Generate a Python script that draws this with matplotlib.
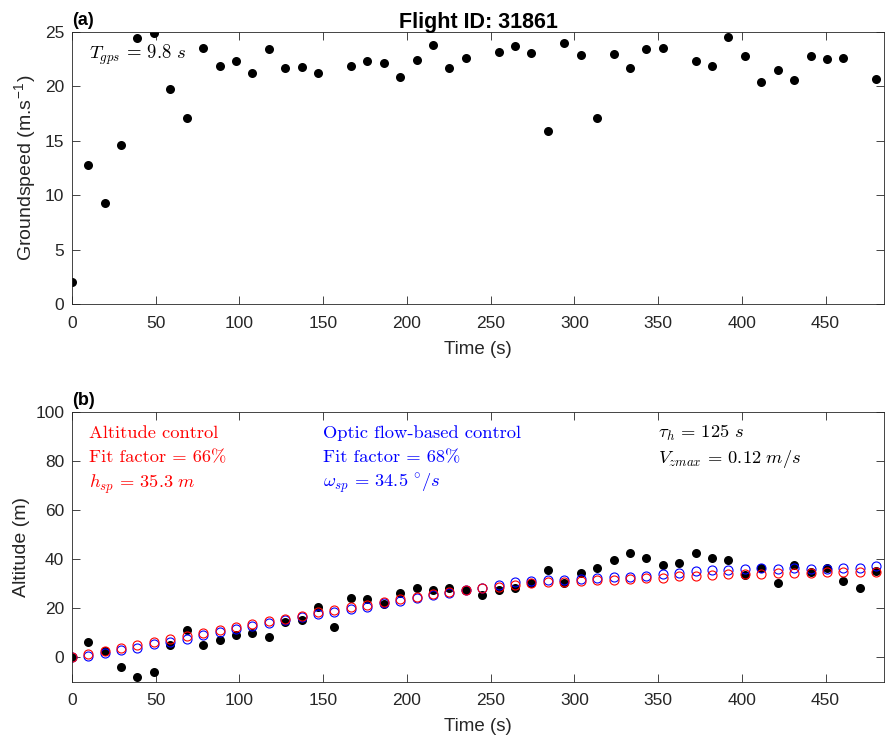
import numpy as np
import matplotlib
matplotlib.use('Agg')
import matplotlib.pyplot as plt

plt.rcParams['font.family'] = ['Liberation Sans', 'DejaVu Sans']
plt.rcParams['mathtext.fontset'] = 'cm'

# time stamps (s), one GPS fix every ~9.8 s
time = [0, 9.8, 19.6, 29.4, 39.2, 49.0, 58.8, 68.6, 78.4, 88.2,
        98.0, 107.8, 117.6, 127.4, 137.2, 147.0, 156.8, 166.6, 176.4, 186.2,
        196.0, 205.8, 215.6, 225.4, 235.2, 245.0, 254.8, 264.6, 274.4, 284.2,
        294.0, 303.8, 313.6, 323.4, 333.2, 343.0, 352.8, 362.6, 372.4, 382.2,
        392.0, 401.8, 411.6, 421.4, 431.2, 441.0, 450.8, 460.6, 470.4, 480.2]

nan = np.nan
groundspeed = [2.0, 12.75, 9.25, 14.6, 24.4, 24.9, 19.8, 17.1, 23.5, 21.9,
               22.3, 21.2, 23.4, 21.7, 21.8, 21.2, nan, 21.9, 22.3, 22.1,
               20.9, 22.4, 23.8, 21.7, 22.6, nan, 23.2, 23.7, 23.1, 15.9,
               24.0, 22.9, 17.1, 23.0, 21.65, 23.4, 23.5, nan, 22.35, 21.9,
               24.5, 22.8, 20.4, 21.5, 20.55, 22.8, 22.5, 22.6, nan, 20.7]

alt_meas = [0, 6.0, 2.5, -4.1, -8.2, -6.1, 5.0, 11.2, 4.9, 6.8,
            8.9, 9.9, 8.0, 14.3, 15.3, 20.3, 12.1, 24.2, 23.5, 21.5,
            26.3, 28.3, 27.5, 28.3, 27.2, 25.2, 27.2, 28.0, 30.0, 35.4,
            30.2, 34.3, 36.3, 39.5, 42.4, 40.4, 37.4, 38.4, 42.4, 40.4,
            39.5, 33.3, 36.3, 30.2, 37.4, 34.7, 36.3, 31.2, 28.3, 35.0]

alt_ctrl = [0, 1.2, 2.4, 3.8, 5.1, 6.3, 7.3, 8.4, 9.9, 11.0,
            12.2, 13.3, 14.6, 15.7, 16.9, 18.2, 19.3, 20.4, 21.4, 22.6,
            23.6, 24.6, 25.6, 26.5, 27.2, 28.1, 28.7, 29.5, 30.0, 30.4,
            30.7, 31.0, 31.4, 31.6, 32.0, 32.3, 32.4, 32.9, 33.2, 33.5,
            33.7, 33.7, 34.0, 34.1, 34.3, 34.4, 34.5, 34.7, 34.8, 34.8]

alt_of = [0, 0.5, 1.5, 2.7, 3.9, 5.2, 6.3, 7.5, 9.0, 10.2,
          11.3, 12.6, 13.9, 15.0, 16.3, 17.4, 18.4, 19.6, 20.6, 22.0,
          22.7, 24.0, 25.1, 26.3, 27.3, 28.2, 29.5, 30.4, 30.9, 31.4,
          31.4, 31.8, 32.2, 32.5, 32.5, 33.2, 33.7, 34.3, 35.0, 35.3,
          35.6, 35.8, 36.2, 36.0, 36.3, 35.9, 36.0, 36.3, 36.3, 37.0]

axcol = '#262626'


def style_axes(ax):
    for s in ax.spines.values():
        s.set_color(axcol)
        s.set_linewidth(0.6)
    ax.tick_params(direction='in', length=5.5, width=0.6, color=axcol,
                   labelcolor=axcol, labelsize=12.5, top=True, right=True)
    ax.tick_params(axis='x', pad=8.5)
    ax.tick_params(axis='y', pad=5.5)


fig = plt.figure(figsize=(8.86, 7.42), dpi=100)
ax1 = fig.add_axes([0.081, 0.590, 0.917, 0.367])
ax2 = fig.add_axes([0.081, 0.0813, 0.917, 0.364])

# (a) groundspeed
ax1.plot(time, groundspeed, 'o', color='k', ms=6.5, mew=0)
ax1.set_xlim(0, 485)
ax1.set_ylim(0, 25)
ax1.set_xticks(np.arange(0, 451, 50))
ax1.set_yticks(np.arange(0, 26, 5))
ax1.set_xlabel('Time (s)', fontsize=13.5, color=axcol, labelpad=7)
ax1.set_ylabel('Groundspeed (m.s$^{\\mathregular{-1}}$)', fontsize=14, color=axcol)
ax1.set_title('Flight ID: 31861', fontsize=15.5, fontweight='bold', pad=3)
ax1.text(0, 1.01, '(a)', transform=ax1.transAxes, fontsize=13,
         fontweight='bold', va='bottom')
ax1.text(10.5, 22.5, r'$T_{gps}\,=\,9.8\ s$', fontsize=13.5)
style_axes(ax1)

# (b) altitude
ax2.plot(time, alt_meas, 'o', color='k', ms=6.5, mew=0)
ax2.plot(time, alt_of, 'o', mfc='none', mec='b', ms=6.5, mew=0.8)
ax2.plot(time, alt_ctrl, 'o', mfc='none', mec='r', ms=6.5, mew=0.8)
ax2.set_xlim(0, 485)
ax2.set_ylim(-10, 100)
ax2.set_xticks(np.arange(0, 451, 50))
ax2.set_yticks(np.arange(0, 101, 20))
ax2.set_xlabel('Time (s)', fontsize=13.5, color=axcol, labelpad=7)
ax2.set_ylabel('Altitude (m)', fontsize=14, color=axcol)
ax2.text(0, 1.01, '(b)', transform=ax2.transAxes, fontsize=13,
         fontweight='bold', va='bottom')
fs = 13.3
rm = dict(fontsize=fs, family='cmr10')
ax2.text(10.5, 89.3, 'Altitude control', color='r', **rm)
ax2.text(10.5, 79.2, 'Fit factor = 66%', color='r', **rm)
ax2.text(10.5, 69.1, r'$h_{sp}\,=\,35.3\ m$', color='r', fontsize=fs)
ax2.text(150.2, 89.3, 'Optic flow-based control', color='b', **rm)
ax2.text(150.2, 79.2, 'Fit factor = 68%', color='b', **rm)
ax2.text(150.2, 69.1, r'$\omega_{sp}\,=\,34.5\ ^{\circ}/s$', color='b', fontsize=fs)
ax2.text(350.2, 89.3, r'$\tau_h\,=\,125\ s$', color='k', fontsize=fs)
ax2.text(350.2, 79.2, r'$V_{zmax}\,=\,0.12\ m/s$', color='k', fontsize=fs)
style_axes(ax2)

fig.savefig('out.png', dpi=100)
